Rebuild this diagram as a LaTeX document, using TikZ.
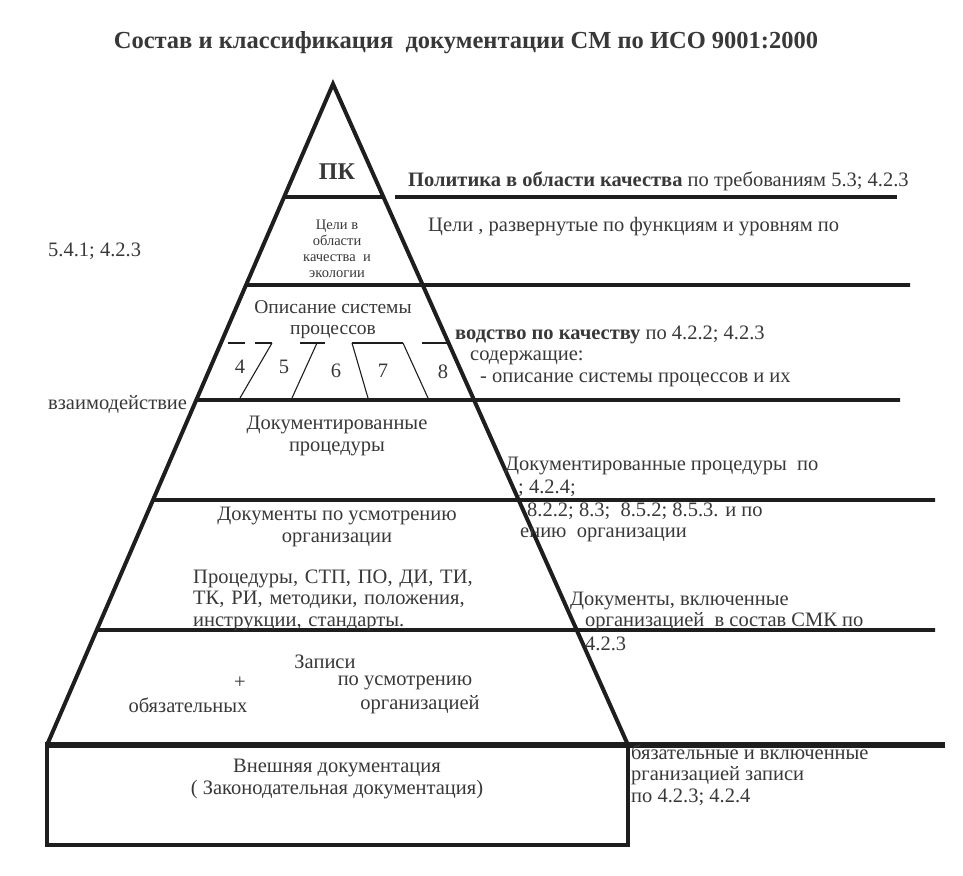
\documentclass[tikz,border=0pt]{standalone}
\usepackage{fontspec}
\setmainfont{Liberation Serif}
\usetikzlibrary{calc}
\definecolor{ink}{HTML}{1E1E1E}
\definecolor{txt}{HTML}{383838}

\begin{document}
\begin{tikzpicture}[
  x=1pt, y=-1pt,
  every node/.style={font=\fontsize{20.5}{21.5}\selectfont, text=txt, inner sep=0pt},
  edge/.style={draw=ink, line width=4pt, line cap=round},
  shelf/.style={draw=ink, line width=3.6pt},
  thin/.style={draw=ink, line width=1.1pt},
  note/.style={anchor=west, align=left},
  lbl/.style={align=center}
]
  \useasboundingbox (0,0) rectangle (963,875);

  % pyramid corners and the ends of each shelf on its sides
  \coordinate (apex) at (333,84);
  \coordinate (bl) at (47,745);
  \coordinate (br) at (628,745);
  \foreach \n/\y in {pk/197, goal/285, band/343, proc/400, dp/500, doc/630}{
    \coordinate (\n L) at ($(apex)!{(\y-84)/661}!(bl)$);
    \coordinate (\n R) at ($(apex)!{(\y-84)/661}!(br)$);
  }

  % title
  \node[font=\bfseries\fontsize{24.5}{28}\selectfont] (title) at (466,43)
    {Состав и классификация\ \ документации СМ по ИСО 9001:2000};

  % pyramid, bottom box and shelves
  \draw[edge] (bl) -- (apex) -- (br);
  \draw[shelf] (pkL) -- (pkR);
  \draw[shelf] (395,197) -- (897,197);
  \draw[shelf] (goalL) -- (910,285);
  \draw[shelf] (procL) -- (900,400);
  \draw[shelf] (dpL) -- (935,500);
  \draw[shelf] (docL) -- (935,630);
  \draw[shelf, line width=5.5pt] (45,745) -- (945,745);
  \draw[shelf] (47,745) rectangle (628,845);

  % process band 4..8
  \draw[thin] (228,343) -- (245,343) (255,343) -- (272,343)
    (300,343) -- (325,343) (352,343) -- (403,343) (422,343) -- (447,343);
  \draw[thin] (272,343) -- (240,398);
  \draw[thin] (317,343) -- (292,398);
  \draw[thin] (352,343) -- (368,398);
  \draw[thin] (403,343) -- (428,398);
  \node (n4) at (240,367) {4};
  \node (n5) at (284,367) {5};
  \node (n6) at (336,371) {6};
  \node (n7) at (383,371) {7};
  \node (n8) at (443,372) {8};

  % labels inside the pyramid
  \node[font=\bfseries\fontsize{24}{28}\selectfont] (pk) at (337,172) {ПК};
  \node[lbl, font=\fontsize{14.5}{16}\selectfont] (goal) at (337,249)
    {Цели в\\области\\качества\ \ и\\экологии};
  \node[lbl, font=\fontsize{19.5}{21}\selectfont] (sys) at (333,320)
    {Описание системы\\процессов};
  \node[lbl] (dproc) at (337,436) {Документированные\\процедуры};
  \node[lbl] (orgdoc) at (337,527) {Документы по усмотрению\\организации};
  \node[note, text width=300pt] (list) at (193,600)
    {Процедуры, СТП, ПО, ДИ, ТИ,\\ТК, РИ, методики, положения,\\инструкции, стандарты.};
  \node (rec) at (325,662) {Записи};
  \node (plus) at (240,683) {+};
  \node (disc) at (405,683) {по усмотрению};
  \node (must) at (188,705) {обязательных};
  \node (byorg) at (420,705) {организацией};
  \node[lbl] (ext) at (337,779) {Внешняя документация\\( Законодательная документация)};

  % notes on the right
  \node[note] (pol) at (408,181)
    {\textbf{Политика в области качества} по требованиям 5.3; 4.2.3};
  \node[note] (goals) at (428,227) {Цели , развернутые по функциям и уровням по};
  \node[note] (goalsref) at (48,251) {5.4.1; 4.2.3};
  \node[note] (man) at (455,335) {\textbf{водство по качеству} по 4.2.2; 4.2.3};
  \node[note] (man2) at (470,357.5) {содержащие:};
  \node[note] (man3) at (480,380) {- описание системы процессов и их};
  \node[note] (man4) at (48,404) {взаимодействие};
  \node[note] (dp1) at (505,466) {Документированные процедуры\ \ по};
  \node[note] (dp2) at (518,488) {; 4.2.4;};
  \node[note] (dp3) at (527,511) {8.2.2; 8.3;\ \ 8.5.2; 8.5.3. и по};
  \node[note] (dp4) at (520,535) {ению\ \ организации};
  \node[note] (inc1) at (570,601) {Документы, включенные};
  \node[note] (inc2) at (585,622) {организацией\ \ в состав СМК по};
  \node[note] (inc3) at (585,644) {4.2.3};
  \node[note] (recs) at (631,775)
    {бязательные и включенные\\рганизацией записи\\по 4.2.3; 4.2.4};
\end{tikzpicture}
\end{document}
